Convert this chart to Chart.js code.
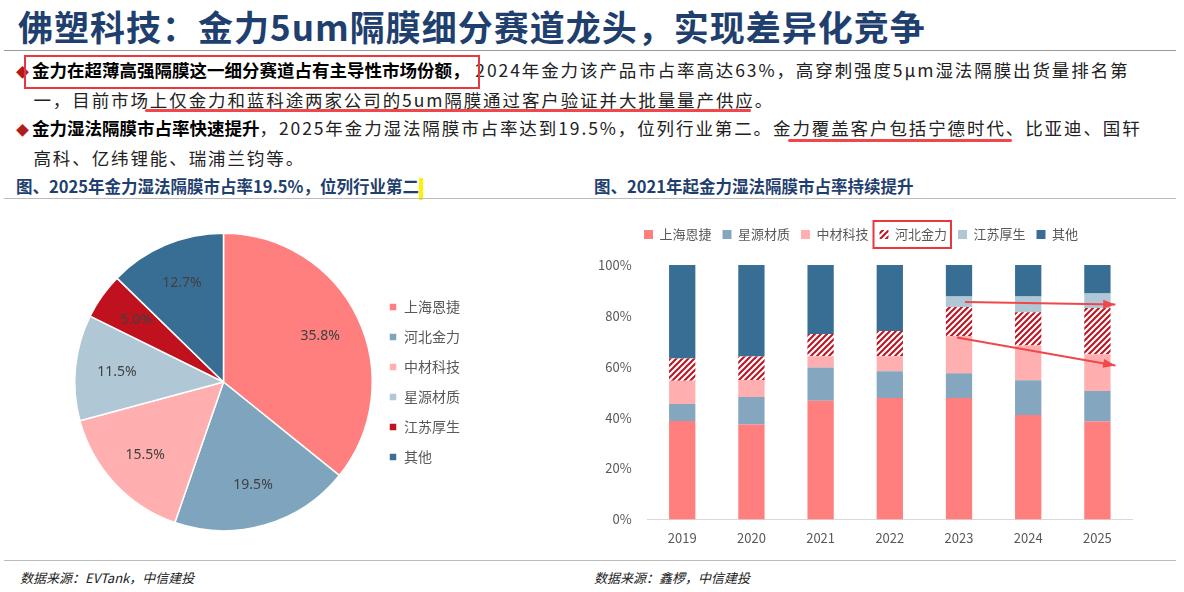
<!DOCTYPE html>
<html><head><meta charset="utf-8">
<script src="https://cdn.jsdelivr.net/npm/chart.js@4"></script>
<style>
body{margin:0;width:1184px;height:592px;background:#fff;font-family:"Noto Sans CJK SC","Noto Sans",sans-serif;position:relative;overflow:hidden}
.title{position:absolute;left:18px;top:0px;font-size:35px;font-weight:bold;color:#1F3F6E;letter-spacing:1px}
.rule{position:absolute;left:4px;top:50px;width:1172px;border-top:1px solid #999}
.p{position:absolute;left:16px;font-size:17.5px;color:#222;line-height:28px;width:1170px;white-space:nowrap;letter-spacing:1.9px}
.p b{font-weight:bold;color:#000;letter-spacing:0}
.dia{color:#B01C1C;font-size:13px;margin-right:3px;letter-spacing:0}
.cap{position:absolute;top:174px;font-size:16.5px;font-weight:bold;color:#1F3F6E}
.src{position:absolute;top:568px;font-size:13px;font-style:italic;color:#222}
.box{position:absolute;border:2px solid #E8383D}
.ul{position:absolute;height:3px;background:#F0474B;border-radius:2px}
canvas{position:absolute}
</style></head><body>
<div class="title">佛塑科技：金力5um隔膜细分赛道龙头，实现差异化竞争</div>
<div class="rule"></div>
<div class="p" style="top:56px"><span class="dia">◆</span><b>金力在超薄高强隔膜这一细分赛道占有主导性市场份额，</b>&nbsp;2024年金力该产品市占率高达63%，高穿刺强度5μm湿法隔膜出货量排名第<br>&nbsp;&nbsp;&nbsp;一，目前市场上仅金力和蓝科途两家公司的5um隔膜通过客户验证并大批量量产供应。</div>
<div class="p" style="top:114px"><span class="dia">◆</span><b>金力湿法隔膜市占率快速提升</b>，2025年金力湿法隔膜市占率达到19.5%，位列行业第二。金力覆盖客户包括宁德时代、比亚迪、国轩<br>&nbsp;&nbsp;&nbsp;高科、亿纬锂能、瑞浦兰钧等。</div>
<div class="box" style="left:24px;top:55px;width:452px;height:30px"></div>
<div class="ul" style="left:145px;top:109px;width:606px"></div>
<div class="ul" style="left:788px;top:139px;width:224px"></div>
<div class="cap" style="left:16px">图、2025年金力湿法隔膜市占率19.5%，位列行业第二<span style="display:inline-block;width:4px;height:22px;background:#FFF200;vertical-align:middle"></span></div>
<div class="cap" style="left:594px">图、2021年起金力湿法隔膜市占率持续提升</div>
<div style="position:absolute;left:4px;top:198px;width:1172px;border-top:1px solid #bbb"></div>
<div style="position:absolute;left:4px;top:560px;width:1172px;border-top:1px solid #bbb"></div>
<div class="src" style="left:20px">数据来源：EVTank，中信建投</div>
<div class="src" style="left:594px">数据来源：鑫椤，中信建投</div>
<canvas id="pie" style="left:0;top:205px;width:580px;height:352px"></canvas>
<canvas id="bar" style="left:590px;top:205px;width:570px;height:352px"></canvas>
<script>
const pieLabels = ['上海恩捷','河北金力','中材科技','星源材质','江苏厚生','其他'];
const pieValues = [35.8, 19.5, 15.5, 11.5, 5.0, 12.7];
const pieColors = ['#FF7F7F','#7FA5BE','#FFAFAF','#B0C7D6','#C0121E','#386E94'];

const years = ['2019','2020','2021','2022','2023','2024','2025'];
const enjie   = [38.7, 37.3, 46.6, 47.7, 47.7, 41.0, 38.5];
const xingyuan= [6.7, 10.8, 13.1, 10.5, 9.7, 13.7, 12.0];
const zhongcai= [9.1, 6.7, 4.4, 5.9, 14.7, 13.7, 14.4];
const hebei   = [8.7, 9.2, 8.8, 10.0, 11.4, 13.0, 18.2];
const jiangsu = [0, 0, 0, 0, 4.1, 6.2, 5.7];
const other   = [36.8, 36.0, 27.1, 25.9, 12.4, 12.4, 11.2];
const yTicks = [0, 20, 40, 60, 80, 100];

Chart.defaults.font.family = '"Noto Sans CJK SC","Noto Sans",sans-serif';
Chart.defaults.color = '#595959';

new Chart(document.getElementById('pie'), {
  type: 'pie',
  data: { labels: pieLabels, datasets: [{ data: pieValues, backgroundColor: pieColors, borderColor: '#fff', borderWidth: 1.5 }] },
  options: {
    responsive: false, animation: false,
    layout: { padding: { left: 74, right: 110, top: 22, bottom: 20 } },
    plugins: {
      tooltip: { enabled: false },
      legend: { position: 'right', labels: { boxWidth: 8, boxHeight: 8, padding: 16, color: '#595959', font: { size: 14 } } }
    }
  },
  plugins: [{
    id: 'lbl',
    afterDatasetsDraw(c) {
      const ctx = c.ctx;
      c.getDatasetMeta(0).data.forEach((a, i) => {
        const m = (a.startAngle + a.endAngle) / 2, r = a.outerRadius * 0.72;
        ctx.save(); ctx.fillStyle = '#404040'; ctx.font = '14px "Noto Sans",sans-serif';
        ctx.textAlign = 'center'; ctx.textBaseline = 'middle';
        ctx.fillText(pieValues[i].toFixed(1) + '%', a.x + Math.cos(m) * r, a.y + Math.sin(m) * r);
        ctx.restore();
      });
    }
  }]
});

function hatch() {
  const p = document.createElement('canvas'); p.width = 6; p.height = 6;
  const g = p.getContext('2d');
  g.fillStyle = '#fff'; g.fillRect(0, 0, 6, 6);
  g.strokeStyle = '#C0121E'; g.lineWidth = 2;
  g.beginPath(); g.moveTo(-1, 7); g.lineTo(7, -1); g.moveTo(-1, 1); g.lineTo(1, -1); g.moveTo(5, 7); g.lineTo(7, 5); g.stroke();
  return g.createPattern(p, 'repeat');
}
const hp = hatch();

new Chart(document.getElementById('bar'), {
  type: 'bar',
  data: {
    labels: years,
    datasets: [
      { label: '上海恩捷', data: enjie, backgroundColor: '#FF7F7F' },
      { label: '星源材质', data: xingyuan, backgroundColor: '#84A6BE' },
      { label: '中材科技', data: zhongcai, backgroundColor: '#FFAFAF' },
      { label: '河北金力', data: hebei, backgroundColor: hp },
      { label: '江苏厚生', data: jiangsu, backgroundColor: '#B0C7D6' },
      { label: '其他', data: other, backgroundColor: '#386E94' }
    ]
  },
  options: {
    responsive: false, animation: false,
    datasets: { bar: { barPercentage: 0.38, categoryPercentage: 1 } },
    layout: { padding: { left: 0, right: 28, top: 12, bottom: 8 } },
    scales: {
      x: { stacked: true, grid: { display: false }, border: { color: '#d9d9d9' }, ticks: { color: '#595959', font: { size: 13 } } },
      y: { stacked: true, min: 0, max: 100, afterBuildTicks: s => { s.ticks = yTicks.map(v => ({ value: v })); },
           grid: { display: false }, border: { display: false },
           ticks: { color: '#595959', font: { size: 13 }, padding: 8, callback: v => v + '%' } }
    },
    plugins: {
      tooltip: { enabled: false },
      legend: { position: 'top', labels: { boxWidth: 9, boxHeight: 9, padding: 11, color: '#595959', font: { size: 13 } } }
    }
  },
  plugins: [{
    id: 'legendPad',
    beforeInit(c) {
      const fit = c.legend.fit;
      c.legend.fit = function () { fit.bind(c.legend)(); this.height += 14; };
    }
  }, {
    id: 'anno',
    afterDraw(c) {
      const ctx = c.ctx, x = c.scales.x, y = c.scales.y;
      const hb = c.legend.legendHitBoxes[3];
      ctx.save();
      ctx.strokeStyle = '#E8383D'; ctx.lineWidth = 2;
      ctx.strokeRect(hb.left - 6, hb.top - 7, hb.width + 10, hb.height + 14);
      ctx.fillStyle = '#F0474B';
      const arrow = (x0, y0, x1, y1) => {
        ctx.beginPath(); ctx.moveTo(x0, y0); ctx.lineTo(x1, y1); ctx.stroke();
        const a = Math.atan2(y1 - y0, x1 - x0);
        ctx.beginPath(); ctx.moveTo(x1, y1);
        ctx.lineTo(x1 - 13 * Math.cos(a - 0.35), y1 - 13 * Math.sin(a - 0.35));
        ctx.lineTo(x1 - 13 * Math.cos(a + 0.35), y1 - 13 * Math.sin(a + 0.35));
        ctx.closePath(); ctx.fill();
      };
      ctx.strokeStyle = '#F0474B'; ctx.lineWidth = 2;
      arrow(x.getPixelForValue(4) + 6, y.getPixelForValue(85.5), x.getPixelForValue(6) + 18, y.getPixelForValue(84.5));
      arrow(x.getPixelForValue(4) - 2, y.getPixelForValue(71.5), x.getPixelForValue(6) + 18, y.getPixelForValue(60.5));
      ctx.restore();
    }
  }]
});
</script>
</body></html>
